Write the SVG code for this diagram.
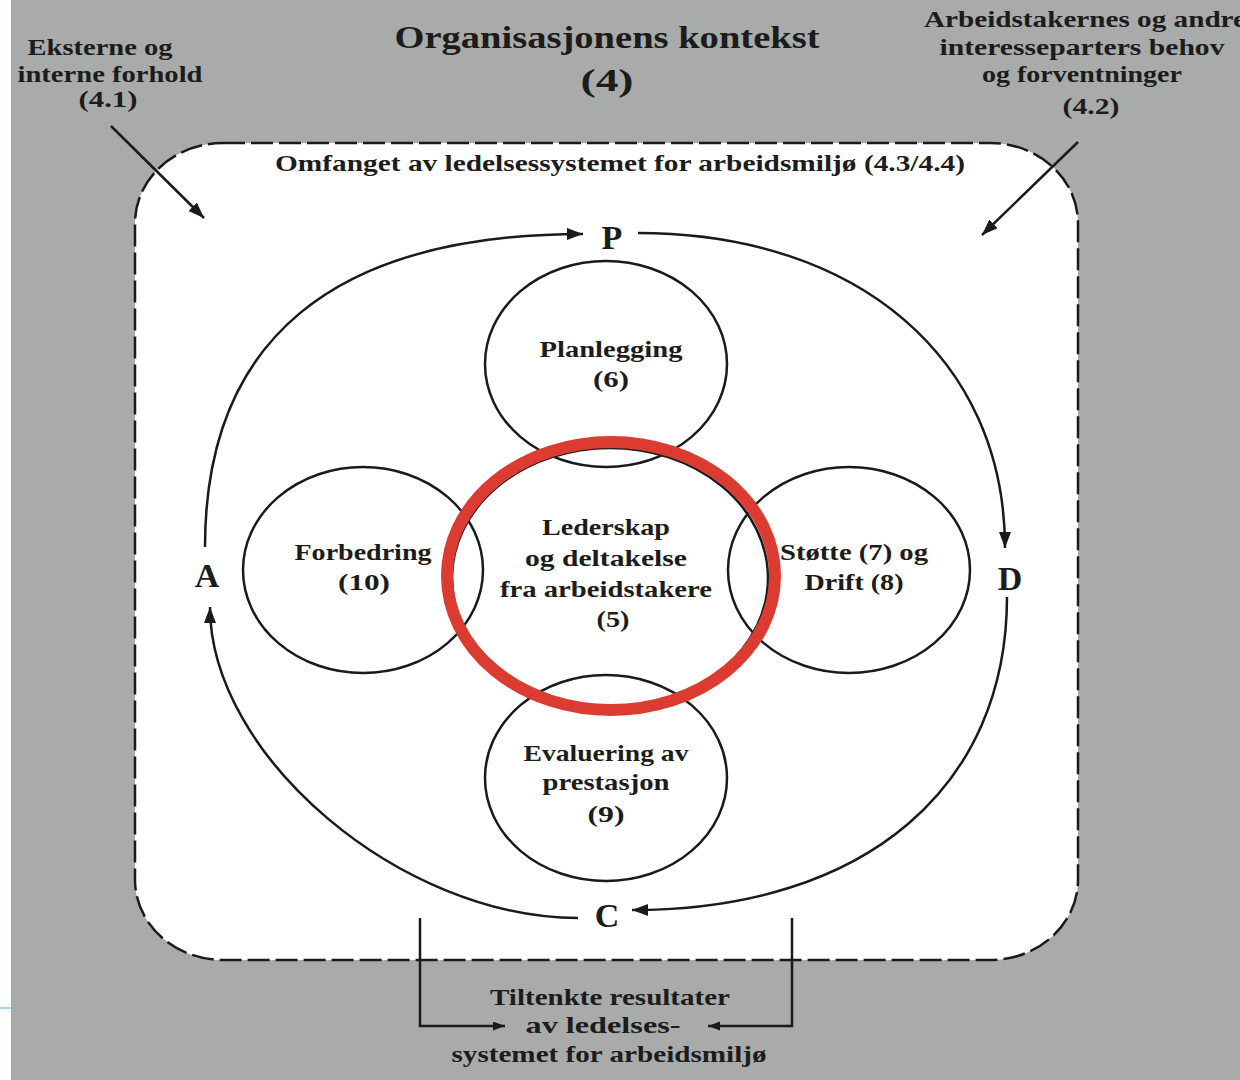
<svg xmlns="http://www.w3.org/2000/svg" width="1240" height="1080" viewBox="0 0 1240 1080">
<style>
.t{font-family:"Liberation Serif","DejaVu Serif",serif;font-weight:bold;fill:#1c1c1c;text-anchor:middle;font-size:23px}
.big{font-size:32px}
.l{font-size:34px}
.c{fill:none;stroke:#1a1a1a;stroke-width:2.5}
.a{fill:none;stroke:#1a1a1a;stroke-width:2.5}
</style>
<defs>
<marker id="ah" markerUnits="userSpaceOnUse" markerWidth="18" markerHeight="14" refX="16" refY="6" orient="auto">
<path d="M0,0 L16,6 L0,12 z" fill="#1a1a1a"/>
</marker>
<marker id="ahs" markerUnits="userSpaceOnUse" markerWidth="14" markerHeight="10" refX="12" refY="4.5" orient="auto">
<path d="M0,0 L12,4.5 L0,9 z" fill="#1a1a1a"/>
</marker>
</defs>
<rect x="0" y="0" width="1240" height="1080" fill="#a8abaa"/>
<rect x="0" y="0" width="11" height="1080" fill="#fdfefe"/>
<rect x="0" y="1007" width="11" height="2" fill="#a6dcf2"/>

<g id="title">
<text class="t big" x="607" y="48" textLength="425" lengthAdjust="spacingAndGlyphs">Organisasjonens kontekst</text>
<text class="t big" x="607" y="91" textLength="53" lengthAdjust="spacingAndGlyphs">(4)</text>
</g>
<g id="external">
<text class="t" x="100" y="55" textLength="145" lengthAdjust="spacingAndGlyphs">Eksterne og</text>
<text class="t" x="110" y="82" textLength="185" lengthAdjust="spacingAndGlyphs">interne forhold</text>
<text class="t" x="108" y="107" textLength="59" lengthAdjust="spacingAndGlyphs">(4.1)</text>
</g>
<g id="stakeholders">
<text class="t" x="1085" y="27" textLength="322" lengthAdjust="spacingAndGlyphs">Arbeidstakernes og andre</text>
<text class="t" x="1082" y="55" textLength="285" lengthAdjust="spacingAndGlyphs">interesseparters behov</text>
<text class="t" x="1082" y="82" textLength="200" lengthAdjust="spacingAndGlyphs">og forventninger</text>
<text class="t" x="1091" y="114" textLength="57" lengthAdjust="spacingAndGlyphs">(4.2)</text>
</g>

<g id="scope">
<rect x="135" y="143" width="943" height="817" rx="88" ry="80" fill="#ffffff" stroke="#1a1a1a" stroke-width="2.5" stroke-dasharray="22 6"/>
<text class="t" x="620" y="171" font-size="22" textLength="690" lengthAdjust="spacingAndGlyphs">Omfanget av ledelsessystemet for arbeidsmiljø (4.3/4.4)</text>
</g>

<g id="planlegging">
<ellipse class="c" cx="606" cy="364" rx="121" ry="103"/>
<text class="t" x="611" y="357" textLength="143" lengthAdjust="spacingAndGlyphs">Planlegging</text>
<text class="t" x="611" y="387" textLength="36" lengthAdjust="spacingAndGlyphs">(6)</text>
</g>
<g id="forbedring">
<ellipse class="c" cx="363" cy="570" rx="120" ry="103"/>
<text class="t" x="363" y="560" textLength="137" lengthAdjust="spacingAndGlyphs">Forbedring</text>
<text class="t" x="364" y="590" textLength="52" lengthAdjust="spacingAndGlyphs">(10)</text>
</g>
<g id="stotte">
<ellipse class="c" cx="849" cy="570" rx="121" ry="103"/>
<text class="t" x="854" y="560" textLength="148" lengthAdjust="spacingAndGlyphs">Støtte (7) og</text>
<text class="t" x="854" y="590" textLength="99" lengthAdjust="spacingAndGlyphs">Drift (8)</text>
</g>
<g id="evaluering">
<ellipse class="c" cx="606" cy="778" rx="121" ry="103"/>
<text class="t" x="606" y="761" textLength="165" lengthAdjust="spacingAndGlyphs">Evaluering av</text>
<text class="t" x="606" y="790" textLength="127" lengthAdjust="spacingAndGlyphs">prestasjon</text>
<text class="t" x="606" y="822" textLength="37" lengthAdjust="spacingAndGlyphs">(9)</text>
</g>
<g id="lederskap">
<ellipse class="c" cx="610" cy="578" rx="158" ry="130"/>
<ellipse cx="611" cy="576" rx="164" ry="134" fill="none" stroke="#dc3b32" stroke-width="12"/>
<text class="t" x="606" y="535" textLength="128" lengthAdjust="spacingAndGlyphs">Lederskap</text>
<text class="t" x="606" y="566" textLength="162" lengthAdjust="spacingAndGlyphs">og deltakelse</text>
<text class="t" x="606" y="597" textLength="212" lengthAdjust="spacingAndGlyphs">fra arbeidstakere</text>
<text class="t" x="613" y="627" textLength="33" lengthAdjust="spacingAndGlyphs">(5)</text>
</g>

<g id="pdca-labels">
<text class="t l" x="612" y="249">P</text>
<text class="t l" x="1010" y="590">D</text>
<text class="t l" x="607" y="927">C</text>
<text class="t l" x="207" y="587">A</text>
</g>

<g id="results">
<text class="t" x="610" y="1005" textLength="240" lengthAdjust="spacingAndGlyphs">Tiltenkte resultater</text>
<text class="t" x="603" y="1033" textLength="155" lengthAdjust="spacingAndGlyphs">av ledelses-</text>
<text class="t" x="609" y="1062" textLength="315" lengthAdjust="spacingAndGlyphs">systemet for arbeidsmiljø</text>
</g>

<g id="connectors">
<path class="a" marker-end="url(#ah)" d="M205,547 C205,340 333,234 583,234"/>
<path class="a" marker-end="url(#ah)" d="M638,233 C858,233 1005,359 1005,548"/>
<path class="a" marker-end="url(#ah)" d="M1007,597 C1007,785 868,910 632,910"/>
<path class="a" marker-end="url(#ah)" d="M578,918 C401,918 210,756 210,607"/>
<path class="a" marker-end="url(#ah)" d="M111,126 L204,218"/>
<path class="a" marker-end="url(#ah)" d="M1078,142 L982,235"/>
<path class="a" stroke-width="2" marker-end="url(#ahs)" d="M420,918 L420,1026 L505,1026"/>
<path class="a" stroke-width="2" marker-end="url(#ahs)" d="M792,918 L792,1026 L708,1026"/>
</g>
</svg>
